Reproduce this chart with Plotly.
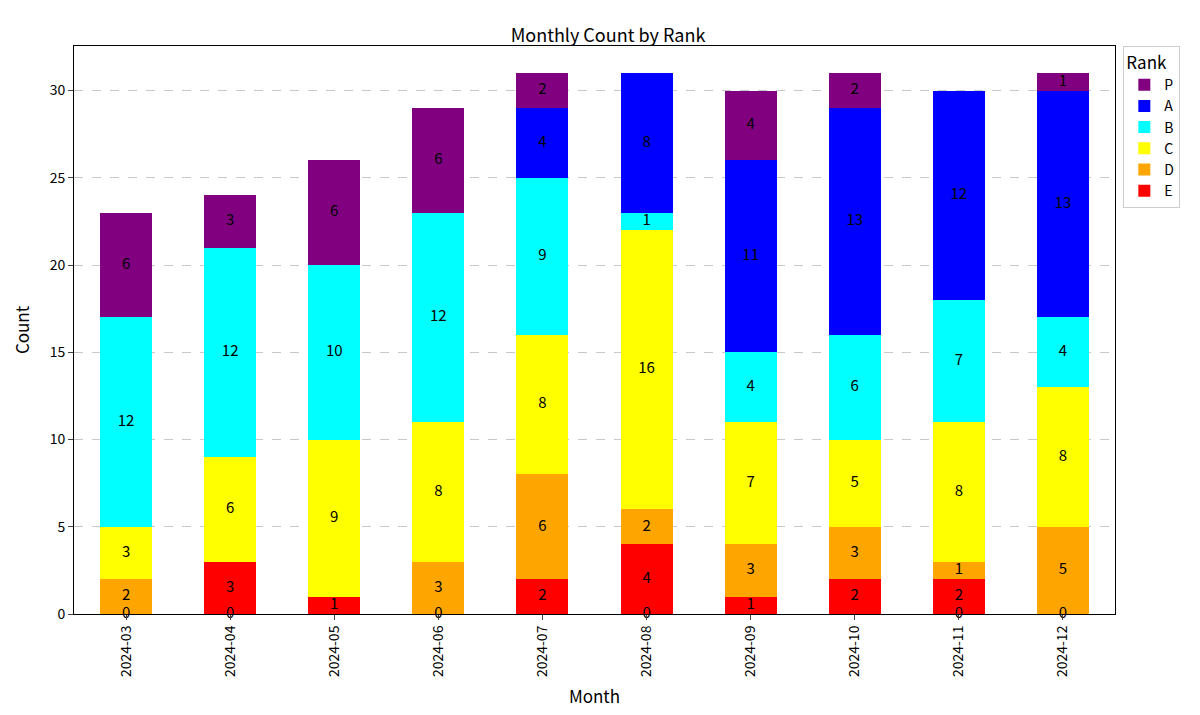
import plotly.graph_objects as go

months = ["2024-03","2024-04","2024-05","2024-06","2024-07","2024-08","2024-09","2024-10","2024-11","2024-12"]
ranks = ["E","D","C","B","A","P"]
E = [0,3,1,0,2,4,1,2,2,0]
D = [2,0,0,3,6,2,3,3,1,5]
C = [3,6,9,8,8,16,7,5,8,8]
B = [12,12,10,12,9,1,4,6,7,4]
A = [0,0,0,0,4,8,11,13,12,13]
P = [6,3,6,6,2,0,4,2,0,1]
zero_label_months = ["2024-03","2024-04","2024-06","2024-08","2024-11","2024-12"]
colors = {"E":"red","D":"orange","C":"yellow","B":"cyan","A":"blue","P":"purple"}
series = {"E":E,"D":D,"C":C,"B":B,"A":A,"P":P}

fig = go.Figure()
base = [0]*len(months)
tx, ty, tt = [], [], []
for r in ranks:
    vals = series[r]
    fig.add_trace(go.Bar(x=months, y=vals, name=r, marker=dict(color=colors[r], line=dict(width=0)), width=0.5))
    for i, v in enumerate(vals):
        if v > 0:
            tx.append(months[i]); ty.append(base[i] + v/2); tt.append(str(v))
        base[i] += v
for m in zero_label_months:
    tx.append(m); ty.append(0); tt.append("0")
fig.add_trace(go.Scatter(x=tx, y=ty, text=tt, mode="text", textfont=dict(size=15, color="black"),
                         showlegend=False, hoverinfo="skip", cliponaxis=False))

fig.update_layout(
    barmode="stack", width=1200, height=715,
    font=dict(family="Noto Sans CJK JP", size=14, color="black"),
    title=dict(text="Monthly Count by Rank", x=0.5, xanchor="center", y=0.97, font=dict(size=18)),
    plot_bgcolor="white", paper_bgcolor="white",
    margin=dict(l=66, r=93, t=38, b=109),
    legend=dict(title=dict(text="Rank"), traceorder="reversed", x=1.008, y=1, xanchor="left", yanchor="top",
                bordercolor="#cccccc", borderwidth=1, font=dict(size=14)),
)
fig.update_xaxes(type="category", title_text="Month", tickangle=-90, showline=True, linecolor="black", mirror=True,
                 ticks="outside", range=[-0.5, 9.5], automargin=False)
fig.update_yaxes(title_text="Count", range=[0, 32.55], dtick=5, showline=True, linecolor="black", mirror=True,
                 ticks="outside", showgrid=True, gridcolor="#c8c8c8", griddash="dash", zeroline=False,
                 automargin=False)
fig.write_html("out.html")
